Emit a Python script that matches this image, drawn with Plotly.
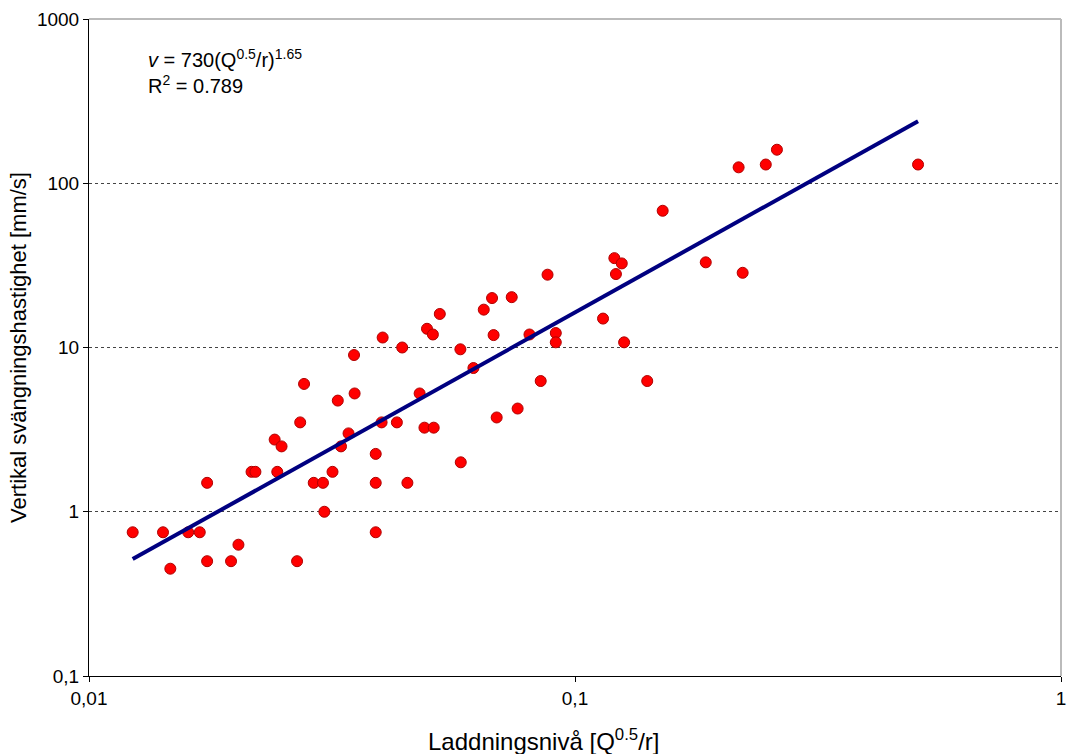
import numpy as np
import plotly.graph_objects as go

# Charge level Q^0.5/r and measured vertical vibration velocity (mm/s)
charge_level = [
    0.0123, 0.0142, 0.0147, 0.0160, 0.0169, 0.0175, 0.0175, 0.0196, 0.0203, 0.0216,
    0.0220, 0.0241, 0.0249, 0.0244, 0.0268, 0.0272, 0.0290, 0.0303, 0.0305, 0.0317,
    0.0330, 0.0342, 0.0389, 0.0389, 0.0389, 0.0277, 0.0325, 0.0351, 0.0352, 0.0402,
    0.0400, 0.0430, 0.0441, 0.0452, 0.0479, 0.0490, 0.0512, 0.0496, 0.0510, 0.0527,
    0.0581, 0.0582, 0.0618, 0.0649, 0.0675, 0.0680, 0.0690, 0.0741, 0.0762, 0.0806,
    0.0850, 0.0878, 0.0913, 0.0913, 0.1142, 0.1205, 0.1248, 0.1214, 0.1262, 0.1408,
    0.1515, 0.1858, 0.2213, 0.2171, 0.2469, 0.2603, 0.508,
]
velocity = [
    0.75, 0.75, 0.45, 0.75, 0.75, 1.5, 0.5, 0.5, 0.63, 1.75,
    1.75, 2.75, 2.5, 1.75, 0.5, 3.5, 1.5, 1.5, 1.0, 1.75,
    2.5, 3.0, 2.25, 1.5, 0.75, 6.0, 4.75, 9.0, 5.25, 11.5,
    3.5, 3.5, 10.0, 1.5, 5.25, 3.25, 3.25, 13.0, 12.0, 16.0,
    9.75, 2.0, 7.5, 17.0, 20.0, 11.9, 3.75, 20.25, 4.25, 12.0,
    6.25, 27.75, 12.25, 10.75, 15.0, 35.0, 32.5, 28.0, 10.75, 6.25,
    68.0, 33.0, 28.5, 125.0, 130.0, 160.0, 130.0,
]

# Power-law fit v = K (Q^0.5/r)^alpha
fit_k = 730
fit_alpha = 1.65
fit_r2 = 0.789

x_ticks = [0.01, 0.1, 1]
x_tick_text = ["0,01", "0,1", "1"]
y_ticks = [0.1, 1, 10, 100, 1000]
y_tick_text = ["0,1", "1", "10", "100", "1000"]

font_family = "Liberation Sans, Arial, sans-serif"

x_fit = np.logspace(np.log10(min(charge_level)), np.log10(max(charge_level)), 100)
y_fit = fit_k * x_fit ** fit_alpha

fig = go.Figure()
fig.add_trace(go.Scatter(
    x=charge_level, y=velocity, mode="markers",
    marker=dict(size=11, color="#FF0000", line=dict(color="#B00000", width=1)),
    showlegend=False,
))
fig.add_trace(go.Scatter(
    x=x_fit, y=y_fit, mode="lines",
    line=dict(color="#000080", width=4),
    showlegend=False,
))

fig.update_layout(
    width=1073, height=754,
    margin=dict(l=89, r=7, t=19, b=78),
    paper_bgcolor="white", plot_bgcolor="white",
    font=dict(family=font_family, size=19, color="black"),
    xaxis=dict(
        type="log", range=[-2, 0],
        tickvals=x_ticks, ticktext=x_tick_text,
        showgrid=False, zeroline=False,
        showline=True, linecolor="black", linewidth=1,
        ticks="outside", ticklen=5, tickcolor="black",
        tickfont=dict(size=19),
    ),
    yaxis=dict(
        type="log", range=[-1, 3],
        tickvals=y_ticks, ticktext=y_tick_text,
        showgrid=True, gridcolor="#444444", gridwidth=1, griddash="dot",
        zeroline=False,
        showline=True, linecolor="black", linewidth=1,
        ticks="outside", ticklen=5, tickcolor="black",
        tickfont=dict(size=19),
        title=dict(text="Vertikal svängningshastighet [mm/s]",
                   font=dict(size=22), standoff=4),
    ),
    shapes=[
        dict(type="line", xref="paper", yref="paper", x0=0, x1=1, y0=1, y1=1,
             line=dict(color="#BBBBBB", width=2)),
        dict(type="line", xref="paper", yref="paper", x0=1, x1=1, y0=0, y1=1,
             line=dict(color="#BBBBBB", width=2)),
    ],
    annotations=[
        dict(
            text=f"<i>v</i> = {fit_k}(Q<sup>0.5</sup>/r)<sup>{fit_alpha}</sup><br>R<sup>2</sup> = {fit_r2}",
            xref="paper", yref="paper", x=0.059, y=0.962,
            xanchor="left", yanchor="top", align="left",
            showarrow=False, font=dict(size=20),
        ),
        dict(
            text="Laddningsnivå [Q<sup>0.5</sup>/r]",
            xref="paper", yref="paper", x=0.468, y=-0.098,
            xanchor="center", yanchor="middle",
            showarrow=False, font=dict(size=24),
        ),
    ],
)

fig.write_html("out.html")
